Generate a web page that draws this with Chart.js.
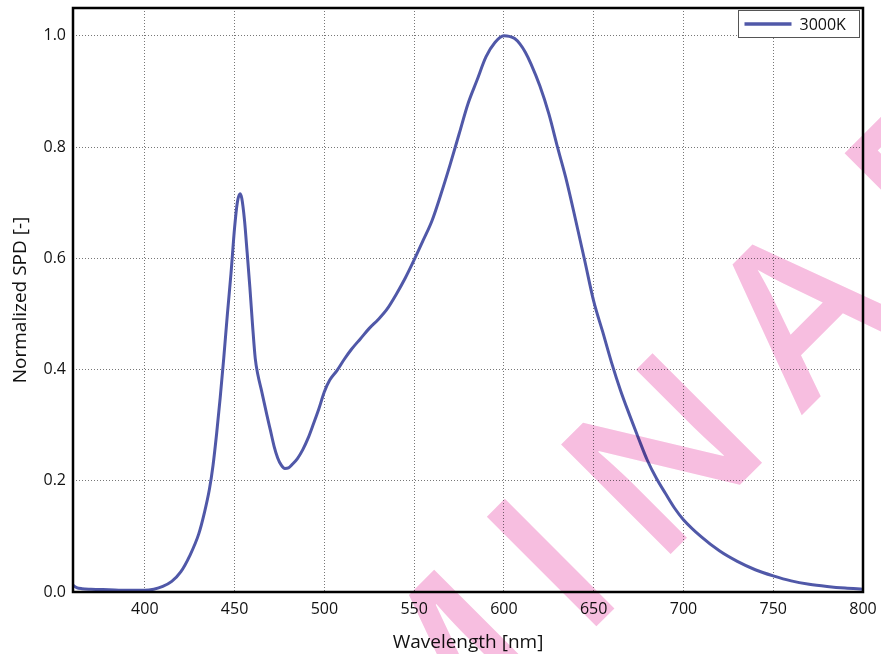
<!DOCTYPE html>
<html>
<head>
<meta charset="utf-8">
<script src="https://cdn.jsdelivr.net/npm/chart.js@4"></script>
<style>
  html, body { margin: 0; padding: 0; background: #fff; }
  #spdChart { display: block; }
</style>
</head>
<body>
<canvas id="spdChart" width="881" height="654"></canvas>
<script>
// Wavelength [nm]
const wavelengths = [360, 362, 365, 370, 380, 390, 400, 405, 410, 415, 420, 425, 430, 433, 436, 438,
    440, 442, 444, 446, 448, 450, 451.5, 453, 454, 455.5, 457, 458.5, 460, 461.5, 463, 465, 468, 470,
    472, 474, 476, 478, 480, 482, 485, 488, 491, 494, 497, 500, 503, 507, 511, 515, 520, 525, 530, 535,
    540, 545, 550, 555, 560, 565, 570, 575, 580, 585, 590, 595, 600, 603, 606, 609, 612, 615, 620, 625,
    630, 635, 640, 645, 650, 655, 660, 665, 670, 675, 680, 685, 690, 695, 700, 710, 720, 730, 740, 750,
    760, 770, 780, 790, 800];

// Normalized SPD, 3000K
const spd3000K = [0.012, 0.008, 0.006, 0.005, 0.004, 0.003, 0.003, 0.005, 0.010, 0.019, 0.036, 0.065,
    0.104, 0.140, 0.185, 0.228, 0.285, 0.350, 0.422, 0.500, 0.573, 0.655, 0.700, 0.716, 0.708, 0.669,
    0.610, 0.548, 0.480, 0.420, 0.390, 0.362, 0.318, 0.290, 0.262, 0.241, 0.228, 0.222, 0.223, 0.229,
    0.240, 0.256, 0.277, 0.303, 0.330, 0.360, 0.381, 0.398, 0.418, 0.436, 0.455, 0.474, 0.490, 0.509,
    0.535, 0.564, 0.597, 0.632, 0.668, 0.716, 0.768, 0.823, 0.878, 0.920, 0.962, 0.988, 1.000, 0.999,
    0.995, 0.985, 0.970, 0.950, 0.910, 0.860, 0.798, 0.738, 0.668, 0.596, 0.523, 0.468, 0.412, 0.362,
    0.318, 0.276, 0.236, 0.204, 0.177, 0.151, 0.130, 0.099, 0.074, 0.055, 0.040, 0.029, 0.020, 0.014,
    0.010, 0.007, 0.005];

const seriesLabel = '3000K';
const xTitle = 'Wavelength [nm]';
const yTitle = 'Normalized SPD [-]';
const watermarkLetters = ['M', 'I', 'N', 'A', 'E'];

const lineColor = '#5058a8';
const fontFamily = '"Open Sans", "Noto Sans", sans-serif';

// Box around the plot area
const framePlugin = {
    id: 'frame',
    afterDatasetsDraw(chart) {
        const { ctx, chartArea: a } = chart;
        ctx.save();
        ctx.strokeStyle = '#000';
        ctx.lineWidth = 2.5;
        ctx.strokeRect(a.left, a.top, a.right - a.left, a.bottom - a.top);
        ctx.restore();
    }
};

// Legend box inside the top right corner
const insideLegend = {
    id: 'insideLegend',
    afterDatasetsDraw(chart) {
        const { ctx, chartArea: a } = chart;
        const w = 121, h = 27;
        const x = a.right - w - 3.5, y = a.top + 2.5;
        ctx.save();
        ctx.fillStyle = '#fff';
        ctx.fillRect(x, y, w, h);
        ctx.strokeStyle = '#555';
        ctx.lineWidth = 1;
        ctx.strokeRect(x, y, w, h);
        ctx.strokeStyle = lineColor;
        ctx.lineWidth = 3.5;
        ctx.beginPath();
        ctx.moveTo(x + 6, y + h / 2);
        ctx.lineTo(x + 53, y + h / 2);
        ctx.stroke();
        ctx.fillStyle = '#111';
        ctx.font = '16px ' + fontFamily;
        ctx.textBaseline = 'middle';
        ctx.fillText(seriesLabel, x + 61, y + h / 2 + 1);
        ctx.restore();
    }
};

// Pink watermark letters on top of everything
const watermark = {
    id: 'watermark',
    afterDraw(chart) {
        const ctx = chart.ctx;
        const centers = [[433, 681], [551, 563], [662, 454], [798, 310], [928, 180]];
        ctx.save();
        ctx.globalCompositeOperation = 'multiply';
        ctx.fillStyle = '#f7bee0';
        ctx.font = '600 217px ' + fontFamily;
        ctx.textAlign = 'center';
        ctx.textBaseline = 'alphabetic';
        watermarkLetters.forEach((ch, i) => {
            ctx.save();
            ctx.translate(centers[i][0], centers[i][1]);
            ctx.rotate(-Math.PI / 4);
            ctx.fillText(ch, 0, 77);
            ctx.restore();
        });
        ctx.restore();
    }
};

const gridStyle = { color: '#777', lineWidth: 1, drawTicks: false };

const ctx = document.getElementById('spdChart').getContext('2d');
new Chart(ctx, {
    type: 'line',
    data: {
        datasets: [{
            label: seriesLabel,
            data: wavelengths.map((x, i) => ({ x: x, y: spd3000K[i] })),
            borderColor: lineColor,
            borderWidth: 3,
            pointRadius: 0,
            cubicInterpolationMode: 'monotone',
            fill: false
        }]
    },
    options: {
        responsive: false,
        animation: false,
        devicePixelRatio: 1,
        layout: { padding: { top: 8, right: 18, left: 0, bottom: 0 } },
        plugins: {
            legend: { display: false },
            tooltip: { enabled: false }
        },
        scales: {
            x: {
                type: 'linear',
                min: 360,
                max: 800,
                grid: gridStyle,
                border: { display: false, dash: [1, 2] },
                ticks: {
                    stepSize: 50,
                    includeBounds: false,
                    padding: 8,
                    color: '#111',
                    font: { family: fontFamily, size: 16 },
                    maxRotation: 0
                },
                title: {
                    display: true,
                    text: xTitle,
                    color: '#111',
                    font: { family: fontFamily, size: 19 },
                    padding: { top: 7, bottom: 0 }
                },
                afterFit(scale) {
                    scale.height = 62;
                    scale.paddingLeft = 0;
                    scale.paddingRight = 0;
                }
            },
            y: {
                type: 'linear',
                min: 0,
                max: 1.05,
                grid: gridStyle,
                border: { display: false, dash: [1, 2] },
                ticks: {
                    stepSize: 0.2,
                    includeBounds: false,
                    padding: 7,
                    color: '#111',
                    font: { family: fontFamily, size: 16 },
                    callback: (v) => v.toFixed(1)
                },
                title: {
                    display: true,
                    text: yTitle,
                    color: '#111',
                    font: { family: fontFamily, size: 19 },
                    padding: { top: 9, bottom: 0 }
                },
                afterFit(scale) {
                    scale.width = 73;
                    scale.paddingTop = 0;
                    scale.paddingBottom = 0;
                }
            }
        }
    },
    plugins: [framePlugin, insideLegend, watermark]
});
</script>
</body>
</html>
